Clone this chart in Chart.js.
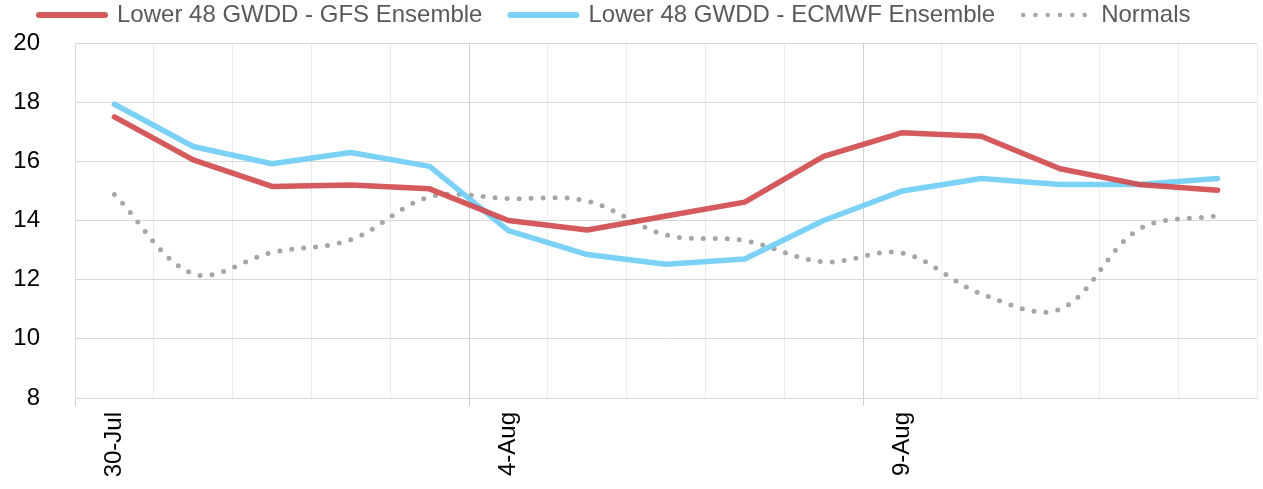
<!DOCTYPE html>
<html>
<head>
<meta charset="utf-8">
<script src="https://cdn.jsdelivr.net/npm/chart.js@4.4.1/dist/chart.umd.min.js"></script>
<style>
  html, body { margin: 0; padding: 0; background: #fff; overflow: hidden; }
  #contenedor { width: 1263px; height: 489px; }
</style>
</head>
<body>
<div id="contenedor"><canvas id="grafico"></canvas></div>
<script>
// Datos
const fechas = ["30-Jul", "31-Jul", "1-Aug", "2-Aug", "3-Aug", "4-Aug", "5-Aug", "6-Aug",
  "7-Aug", "8-Aug", "9-Aug", "10-Aug", "11-Aug", "12-Aug", "13-Aug"];
const gfs = [17.5, 16.05, 15.15, 15.2, 15.07, 14.0, 13.68, 14.15, 14.62, 16.17, 16.97, 16.85, 15.75, 15.22, 15.02];
const ecmwf = [17.93, 16.5, 15.92, 16.3, 15.83, 13.66, 12.85, 12.52, 12.7, 14.0, 15.0, 15.42, 15.22, 15.22, 15.42];
const normales = [14.88, 12.2, 12.92, 13.35, 14.8, 14.74, 14.66, 13.51, 13.32, 12.6, 12.9, 11.52, 11.0, 13.7, 14.17];
const ticksY = [8, 10, 12, 14, 16, 18, 20];

const fuente = "'Liberation Sans', Arial, sans-serif";

// Leyenda: altura fija y texto subido (Chart.js no lo permite por opciones)
const ajusteLeyenda = {
  id: "ajusteLeyenda",
  beforeLayout(chart) {
    const legend = chart.legend;
    if (legend && !legend._ajustada) {
      const fitOriginal = legend.fit;
      legend.fit = function () {
        fitOriginal.call(this);
        this.height = 43;
      };
      legend._ajustada = true;
    }
  },
  afterLayout(chart) {
    const legend = chart.legend;
    if (legend) {
      legend.top = -25;
      legend.bottom = 40;
    }
  }
};

const ctx = document.getElementById("grafico").getContext("2d");
new Chart(ctx, {
  type: "line",
  data: {
    labels: fechas,
    datasets: [
      {
        label: "Lower 48 GWDD - GFS Ensemble",
        data: gfs,
        borderColor: "rgba(208, 72, 75, 0.9)",
        borderWidth: 5.5,
        pointRadius: 0,
        tension: 0,
        borderJoinStyle: "round",
        borderCapStyle: "round",
      },
      {
        label: "Lower 48 GWDD - ECMWF Ensemble",
        data: ecmwf,
        borderColor: "rgba(110, 205, 245, 0.9)",
        borderWidth: 5.5,
        pointRadius: 0,
        tension: 0,
        borderJoinStyle: "round",
        borderCapStyle: "round",
      },
      {
        label: "Normals",
        data: normales,
        borderColor: "#a6a6a6",
        borderWidth: 5,
        borderDash: [0, 12],
        borderCapStyle: "round",
        pointRadius: 0,
        tension: 0.35,
      },
    ],
  },
  options: {
    responsive: true,
    maintainAspectRatio: false,
    animation: false,
    layout: {
      padding: { top: 0, left: 11, right: 6, bottom: 0 },
    },
    plugins: {
      tooltip: { enabled: false },
      legend: {
        position: "top",
        align: "start",
        labels: {
          usePointStyle: true,
          pointStyleWidth: 66,
          padding: 28,
          color: "#595959",
          font: { family: fuente, size: 24 },
          generateLabels: function (chart) {
            return chart.data.datasets.map(function (ds, i) {
              const punteada = i === 2;
              return {
                text: ds.label,
                datasetIndex: i,
                fillStyle: ds.borderColor,
                strokeStyle: ds.borderColor,
                lineWidth: punteada ? 4.5 : 6,
                lineDash: punteada ? [0, 12.3] : [],
                lineCap: "round",
                pointStyle: "line",
                fontColor: "#595959",
              };
            });
          },
        },
      },
    },
    scales: {
      x: {
        type: "category",
        offset: true,
        afterFit: function (scale) {
          scale.height = 91;
        },
        grid: {
          offset: true,
          lineWidth: 1,
          tickLength: 8,
          color: function (c) {
            return c.index % 5 === 0 ? "#d0d0d0" : "#ececec";
          },
          tickColor: function (c) {
            return c.index % 5 === 0 ? "#d0d0d0" : "rgba(0,0,0,0)";
          },
        },
        border: { color: "#d9d9d9" },
        ticks: {
          autoSkip: false,
          minRotation: 90,
          maxRotation: 90,
          padding: 6,
          color: "#000",
          font: { family: fuente, size: 24 },
          callback: function (value, index) {
            return index % 5 === 0 ? this.getLabelForValue(value) : "";
          },
        },
      },
      y: {
        min: ticksY[0],
        max: ticksY[ticksY.length - 1],
        afterFit: function (scale) {
          scale.width = 64;
          // el padding de las etiquetas no debe empujar el área del gráfico
          scale.paddingTop = 14;
          scale.paddingBottom = 14;
        },
        afterBuildTicks: function (scale) {
          scale.ticks = ticksY.map(function (v) { return { value: v }; });
        },
        grid: {
          color: "#d9d9d9",
          drawTicks: false,
        },
        border: { color: "#d9d9d9" },
        ticks: {
          padding: 35,
          color: "#000",
          font: { family: fuente, size: 24 },
        },
      },
    },
  },
  plugins: [ajusteLeyenda],
});
</script>
</body>
</html>
